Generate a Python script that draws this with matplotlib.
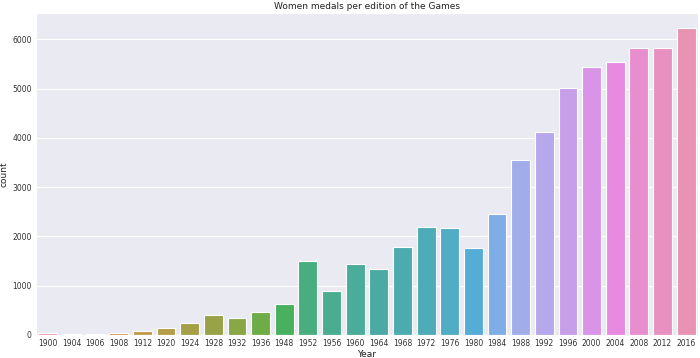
import matplotlib
matplotlib.use("Agg")
import matplotlib.pyplot as plt
import seaborn as sns

years = ["1900", "1904", "1906", "1908", "1912", "1920", "1924", "1928", "1932", "1936",
         "1948", "1952", "1956", "1960", "1964", "1968", "1972", "1976", "1980", "1984",
         "1988", "1992", "1996", "2000", "2004", "2008", "2012", "2016"]
counts = [33, 16, 11, 50, 82, 134, 244, 404, 347, 468,
          628, 1497, 893, 1435, 1348, 1777, 2193, 2172, 1756, 2447,
          3543, 4124, 5008, 5431, 5546, 5816, 5815, 6223]

title = "Women medals per edition of the Games"
xlabel = "Year"
ylabel = "count"

sns.set_style("darkgrid")
plt.rcParams['font.family'] = ['DejaVu Sans']

fig = plt.figure(figsize=(7, 3.58), dpi=100)
ax = fig.add_axes([36/700, 1 - 335/358, (698 - 36)/700, (335 - 13)/358])

pal = [sns.desaturate(c, 0.75) for c in sns.husl_palette(len(years), l=.7)]
ax.bar(range(len(years)), counts, width=0.8, color=pal, edgecolor="white", linewidth=0.8)
ax.set_xticks(range(len(years)))
ax.set_xticklabels(years)
ax.set_xlim(-0.5, len(years) - 0.5)
ax.set_ylim(0, max(counts) * 1.05)
ax.tick_params(axis="both", labelsize=5.5, colors="#333333", length=0, pad=3)
ax.set_xlabel(xlabel, fontsize=6.5, labelpad=1, color="#222222")
ax.set_ylabel(ylabel, fontsize=6.5, labelpad=3, color="#222222")
ax.set_title(title, fontsize=6.5, pad=3, color="#222222")
ax.grid(axis="x", visible=False)

fig.savefig("out.png", dpi=100)
